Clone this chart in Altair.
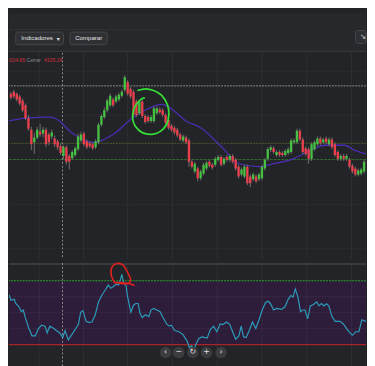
import altair as alt
import pandas as pd

# ---------------- data ----------------
candle_open = [4160,4162,4160,4157,4153,4148,4135,4123,4110,4115,4121,4119,4123,4118,4116,4114,4111,4106,4096,4105,
               4096,4094,4097,4103,4112,4119,4111,4109,4108,4105,4110,4128,4136,4143,4148,4154,4152,4154,4158,4164,
               4172,4165,4162,4152,4140,4152,4137,4136,4132,4132,4140,4144,4143,4138,4133,4127,4125,4123,4118,4112,
               4115,4112,4090,4080,4083,4073,4078,4083,4090,4087,4087,4092,4095,4088,4095,4092,4096,4092,4085,4077,
               4075,4085,4075,4072,4075,4072,4073,4083,4093,4102,4104,4097,4100,4099,4097,4099,4100,4110,4110,4122,
               4113,4104,4103,4093,4103,4108,4114,4110,4114,4108,4113,4108,4100,4093,4096,4093,4092,4086,4083,4077,
               4078,4080,4090]
candle_close = [4156,4157,4154,4150,4143,4135,4124,4108,4115,4123,4118,4123,4108,4110,4120,4108,4105,4099,4105,4090,
                4090,4100,4104,4116,4118,4108,4105,4106,4104,4111,4128,4137,4143,4153,4158,4148,4157,4159,4162,4177,
                4160,4157,4138,4138,4152,4137,4131,4132,4136,4145,4145,4141,4138,4130,4125,4123,4120,4117,4113,4116,
                4110,4090,4085,4088,4073,4080,4087,4089,4086,4084,4093,4095,4087,4093,4092,4096,4090,4083,4075,4082,
                4085,4068,4068,4077,4070,4077,4085,4092,4103,4105,4100,4100,4097,4097,4101,4103,4112,4112,4122,4113,
                4100,4098,4093,4108,4110,4114,4109,4113,4110,4113,4105,4097,4093,4096,4093,4096,4085,4080,4077,4081,
                4082,4090,4087]
candle_high = [4162,4164,4161,4159,4155,4150,4138,4126,4120,4126,4129,4126,4125,4120,4123,4117,4113,4109,4107,4107,
               4098,4102,4106,4119,4121,4121,4113,4111,4110,4113,4130,4139,4146,4155,4160,4156,4159,4161,4164,4179,
               4174,4167,4164,4154,4154,4154,4139,4138,4138,4147,4147,4146,4145,4140,4135,4129,4127,4125,4120,4118,
               4117,4114,4092,4090,4085,4082,4089,4091,4092,4089,4095,4097,4097,4095,4097,4098,4098,4094,4087,4084,
               4087,4087,4077,4079,4077,4079,4087,4094,4105,4107,4106,4102,4102,4101,4103,4105,4114,4114,4124,4124,
               4115,4106,4105,4110,4112,4116,4116,4115,4116,4115,4115,4110,4102,4098,4098,4098,4094,4088,4085,4083,
               4084,4092,4092]
candle_low = [4154,4155,4152,4148,4141,4133,4122,4102,4098,4113,4116,4115,4105,4107,4113,4105,4102,4097,4093,4087,
              4082,4092,4095,4101,4110,4106,4103,4104,4102,4103,4108,4126,4134,4141,4146,4146,4150,4152,4156,4162,
              4158,4155,4136,4136,4138,4135,4129,4130,4130,4130,4138,4139,4136,4128,4123,4121,4118,4115,4111,4110,
              4108,4085,4083,4078,4070,4071,4076,4081,4084,4082,4085,4090,4085,4086,4090,4090,4088,4081,4073,4075,
              4073,4066,4064,4070,4068,4070,4071,4081,4091,4100,4098,4095,4095,4095,4095,4097,4098,4108,4108,4111,
              4098,4096,4088,4091,4101,4106,4107,4108,4108,4106,4103,4095,4091,4091,4091,4091,4083,4078,4075,4075,
              4076,4078,4085]
candle_time = [3 * i for i in range(len(candle_close))]  # minutes since first bar

ma_time = [-2, 15, 40, 50, 60, 70, 85, 105, 125, 142, 155, 168, 180, 195, 215, 235, 255, 270, 290, 310, 323, 343, 353, 365]
ma_value = [4132, 4135, 4136, 4132, 4122, 4115, 4110, 4118, 4135, 4145, 4149, 4142, 4132, 4125, 4107, 4088, 4085, 4088,
            4093, 4103, 4107, 4107, 4102, 4098]

rsi_time = [-10, -6.7, -3.3, -1.7, 0, 3.3, 5, 8.3, 10.7, 12.7, 15, 18.3, 21.7, 25, 28.3, 31.7, 35, 37.3, 40, 43.3,
            46.7, 50, 53.3, 55.7, 59, 61.7, 66, 69.3, 71.7, 74, 77.3, 80, 83.3, 86.7, 90, 93.3, 96.7, 100, 102.7, 105,
            108.3, 110.7, 112.7, 114, 116, 118.3, 120, 123.3, 126, 128.3, 130.7, 132.7, 135, 138.3, 141.7, 144, 146.7,
            150, 153.3, 156.7, 160, 162.7, 165, 168.3, 172.7, 176.7, 181, 183.3, 185.7, 188.3, 191, 193.3, 196.7, 201.7,
            205, 208.3, 211.7, 215, 217.7, 221.7, 225, 228.3, 231, 234.3, 236.7, 239, 241.7, 245, 248.3, 251.7, 255,
            258.3, 261.7, 264.3, 266.7, 270, 273.3, 278.3, 281.7, 285, 287.7, 290, 292.3, 295, 297.7, 300, 302.3, 305,
            307.7, 311, 314.3, 316.7, 319, 321.7, 324.3, 326.7, 330, 333.3, 338.3, 341.7, 345, 348.3, 351, 354.3,
            357.7, 360.7, 365]
rsi_value = [60.8, 61.2, 60.2, 60.8, 57.8, 58.4, 55.8, 53.7, 50.7, 51.7, 46.6, 40.5, 35.5, 35.5, 40.1, 42.2, 41.6, 37.5,
             41.6, 40.5, 38.9, 37.5, 34.5, 38.9, 33.0, 35.5, 39.5, 42.6, 50.3, 51.3, 44.6, 44.0, 44.2, 48.7, 56.8, 60.8,
             63.9, 67.3, 65.3, 66.3, 67.9, 67.3, 71.0, 74.0, 68.5, 66.9, 59.8, 50.3, 54.7, 55.8, 55.8, 49.7, 47.0, 48.7,
             47.6, 51.7, 52.7, 51.7, 50.7, 46.6, 43.0, 41.6, 42.2, 38.9, 38.1, 36.5, 32.4, 28.4, 29.4, 27.4, 31.4, 34.1,
             34.9, 34.1, 39.5, 41.6, 38.1, 43.0, 42.6, 44.2, 42.6, 37.5, 33.4, 35.5, 41.6, 34.9, 34.5, 38.9, 44.2, 40.1,
             45.6, 51.7, 56.4, 57.2, 55.8, 51.7, 52.7, 52.1, 53.7, 58.4, 60.8, 59.8, 64.9, 59.8, 50.7, 51.7, 51.7, 46.2,
             54.3, 55.2, 56.8, 54.3, 55.8, 54.3, 55.6, 54.3, 47.6, 44.6, 44.6, 43.0, 40.1, 37.5, 35.9, 38.1, 38.1, 45.6,
             44.6]

grid_time = [29, 74.5, 120, 166, 212, 258, 304, 350]
grid_price = [4183, 4138, 4092, 4046, 4001]
rsi_grid = [40, 50, 60]
rsi_upper, rsi_lower = 70, 30
level_prices = [4109, 4092.3]
cross_time, cross_price = 53, 4168

circle_time = [130, 138.3, 146.7, 155, 161, 162.3, 160, 153.3, 145, 135, 127.7, 125, 126.7, 131, 135, 137.7]
circle_price = [4163.3, 4165, 4163.3, 4158.3, 4148.3, 4138.3, 4128.3, 4121, 4118.3, 4120, 4126.7, 4135, 4145,
                4151.7, 4155, 4155.7]
scribble_time = [107, 103, 104, 109, 115, 120, 123, 121, 112, 106, 120, 127]
scribble_rsi = [68.4, 73.8, 78.7, 80.8, 79.9, 75.1, 70.8, 68.4, 68.4, 69.0, 68.4, 67.1]

price_labels = ["4104.95", "Cerrar", "4105.24"]
nav_glyphs = ["‹", "−", "↻", "+", "›"]
nav_time = [159, 172.5, 187, 201, 216]
toolbar_labels = ["Indicadores", "Comparar"]

# ---------------- styling ----------------
W = 367
BG = "#232427"
GREEN = "#45c043"
RED = "#e8404d"
FONT = "Liberation Sans"

xs = alt.Scale(domain=[-2, 365], nice=False, zero=False)
ys = alt.Scale(domain=[3990, 4202], nice=False, zero=False)
yr = alt.Scale(domain=[16.62, 81.14], nice=False, zero=False)


def X(f="t"):
    return alt.X(f"{f}:Q", scale=xs, axis=None)


def Y(f="price"):
    return alt.Y(f"{f}:Q", scale=ys, axis=None)


def YR(f="rsi"):
    return alt.Y(f"{f}:Q", scale=yr, axis=None)


candles = pd.DataFrame({"t": candle_time, "open": candle_open, "close": candle_close,
                        "high": candle_high, "low": candle_low})
ma_df = pd.DataFrame({"t": ma_time, "price": ma_value})
rsi_df = pd.DataFrame({"t": rsi_time, "rsi": rsi_value})
circ_df = pd.DataFrame({"t": circle_time, "price": circle_price, "k": list(range(len(circle_time)))})
scrib_df = pd.DataFrame({"t": scribble_time, "rsi": scribble_rsi, "k": list(range(len(scribble_time)))})
one = pd.DataFrame({"a": [0]})

# ---------------- toolbar ----------------
btn_df = pd.DataFrame({"x0": [7, 62.7, 356.3], "x1": [56, 101, 367], "y0": [19.7, 19.7, 18], "y1": [32.7, 32.7, 31.3]})
tb_buttons = alt.Chart(btn_df).mark_rect(fill="#2f3034", stroke="#46474b", strokeWidth=1, cornerRadius=2).encode(
    x=alt.X("x0:Q", scale=None), x2="x1:Q", y=alt.Y("y0:Q", scale=None), y2="y1:Q")
tb_line = alt.Chart(one).mark_rule(color="#313235", strokeWidth=1).encode(
    x=alt.value(0), x2=alt.value(157), y=alt.value(17))
tb_border = alt.Chart(one).mark_rule(color="#3b3c3f", strokeWidth=1).encode(y=alt.value(39.5))
tb_t1 = alt.Chart(one).mark_text(text=toolbar_labels[0], font=FONT, fontSize=6.3, color="#e2e2e2",
                                 align="left", baseline="middle").encode(x=alt.value(12.7), y=alt.value(26.3))
tb_caret = alt.Chart(one).mark_text(text="▾", font="DejaVu Sans", fontSize=6, color="#e2e2e2",
                                    align="center", baseline="middle").encode(x=alt.value(50.5), y=alt.value(26.5))
tb_t2 = alt.Chart(one).mark_text(text=toolbar_labels[1], font=FONT, fontSize=6.3, color="#e2e2e2",
                                 align="left", baseline="middle").encode(x=alt.value(68), y=alt.value(26.3))
tb_icon = alt.Chart(one).mark_text(text="↘", font="DejaVu Sans", fontSize=8, color="#d0d0d0",
                                   align="center", baseline="middle").encode(x=alt.value(364), y=alt.value(25))
toolbar = alt.layer(tb_line, tb_border, tb_buttons, tb_t1, tb_caret, tb_t2, tb_icon).properties(
    width=W, height=40, view=alt.ViewBackground(fill="#27282b", strokeWidth=0))

# ---------------- price pane ----------------
p_gv = alt.Chart(pd.DataFrame({"t": grid_time})).mark_rule(color="#ffffff", opacity=0.055).encode(x=X())
p_gh = alt.Chart(pd.DataFrame({"price": grid_price})).mark_rule(color="#ffffff", opacity=0.035).encode(y=Y())
p_lv1 = alt.Chart(pd.DataFrame({"price": [level_prices[0]]})).mark_rule(
    color="#4f5b2d", strokeDash=[2, 1]).encode(y=Y())
p_lv2 = alt.Chart(pd.DataFrame({"price": [level_prices[1]]})).mark_rule(
    color="#2f6b2b", strokeDash=[3, 1]).encode(y=Y())
p_ch = alt.Chart(pd.DataFrame({"price": [cross_price]})).mark_rule(
    color="#8e8e8e", strokeDash=[2, 1]).encode(y=Y())
p_cv = alt.Chart(pd.DataFrame({"t": [cross_time]})).mark_rule(
    color="#8e8e8e", strokeDash=[2, 2]).encode(x=X())
p_ma = alt.Chart(ma_df).mark_line(color="#4b2db5", strokeWidth=1.3, interpolate="monotone", clip=True).encode(
    x=X(), y=Y())
p_wick = alt.Chart(candles).mark_rule(color="#707070", strokeWidth=1, clip=True).encode(
    x=X(), y=Y("low"), y2="high:Q")
p_body = alt.Chart(candles).mark_rule(strokeWidth=2.4, clip=True).encode(
    x=X(), y=Y("open"), y2="close:Q",
    color=alt.condition("datum.close >= datum.open", alt.value(GREEN), alt.value(RED)))
p_circle = alt.Chart(circ_df).mark_line(color="#35dd35", strokeWidth=1.8, interpolate="catmull-rom").encode(
    x=X(), y=Y(), order="k:Q")
p_l1 = alt.Chart(one).mark_text(text=price_labels[0], font=FONT, fontSize=5.2, color="#d3303a",
                                align="left", baseline="middle", clip=True).encode(x=alt.value(-2.3), y=alt.value(7))
p_l2 = alt.Chart(one).mark_text(text=price_labels[1], font=FONT, fontSize=5.2, color="#8a8a8a",
                                align="left", baseline="middle").encode(x=alt.value(18), y=alt.value(7))
p_l3 = alt.Chart(one).mark_text(text=price_labels[2], font=FONT, fontSize=5.2, color="#d3303a",
                                align="left", baseline="middle").encode(x=alt.value(36), y=alt.value(7))
price = alt.layer(p_gv, p_gh, p_lv1, p_lv2, p_ch, p_cv, p_ma, p_wick, p_body, p_circle, p_l1, p_l2, p_l3).properties(
    width=W, height=212, view=alt.ViewBackground(fill=BG, strokeWidth=0))

# ---------------- RSI pane ----------------
r_fill = alt.Chart(pd.DataFrame({"hi": [rsi_upper], "lo": [rsi_lower]})).mark_rect(color="#2e1d3a").encode(
    y=YR("hi"), y2="lo:Q", x=alt.value(0), x2=alt.value(W))
r_gv = alt.Chart(pd.DataFrame({"t": grid_time})).mark_rule(color="#ffffff", opacity=0.055).encode(x=X())
r_gh = alt.Chart(pd.DataFrame({"rsi": rsi_grid})).mark_rule(color="#ffffff", opacity=0.05).encode(y=YR())
r_up = alt.Chart(pd.DataFrame({"rsi": [rsi_upper]})).mark_rule(color="#28ad28", strokeDash=[2, 1]).encode(y=YR())
r_lo = alt.Chart(pd.DataFrame({"rsi": [rsi_lower]})).mark_rule(color="#a8232b", strokeWidth=1.3).encode(y=YR())
r_sep = alt.Chart(one).mark_rule(color="#3a3b3e", strokeWidth=2).encode(y=alt.value(1))
r_cv = alt.Chart(pd.DataFrame({"t": [cross_time]})).mark_rule(
    color="#8e8e8e", strokeDash=[2, 2]).encode(x=X())
r_line = alt.Chart(rsi_df).mark_line(color="#2b9cbb", strokeWidth=1.2, clip=True).encode(x=X(), y=YR())
r_scrib = alt.Chart(scrib_df).mark_line(color="#e3221d", strokeWidth=1.6, interpolate="catmull-rom").encode(
    x=X(), y=YR(), order="k:Q")
nav_df = pd.DataFrame({"t": nav_time, "rsi": [25.1] * len(nav_time), "g": nav_glyphs})
r_nav = alt.Chart(nav_df).mark_circle(size=140, color="#3b3c40", opacity=1).encode(x=X(), y=YR())
r_navt = alt.Chart(nav_df).mark_text(font="DejaVu Sans", fontSize=8, color="#e0e0e0", baseline="middle").encode(
    x=X(), y=YR(), text="g:N")
rsi = alt.layer(r_fill, r_gv, r_gh, r_up, r_lo, r_sep, r_cv, r_line, r_scrib, r_nav, r_navt).properties(
    width=W, height=106, view=alt.ViewBackground(fill=BG, strokeWidth=0))

chart = alt.vconcat(toolbar, price, rsi, spacing=0).resolve_scale(
    x="independent", y="independent", color="independent"
).properties(padding=0, background=BG).configure_view(strokeWidth=0)

chart.save("out.html", embed_options={"renderer": "svg", "actions": False})
